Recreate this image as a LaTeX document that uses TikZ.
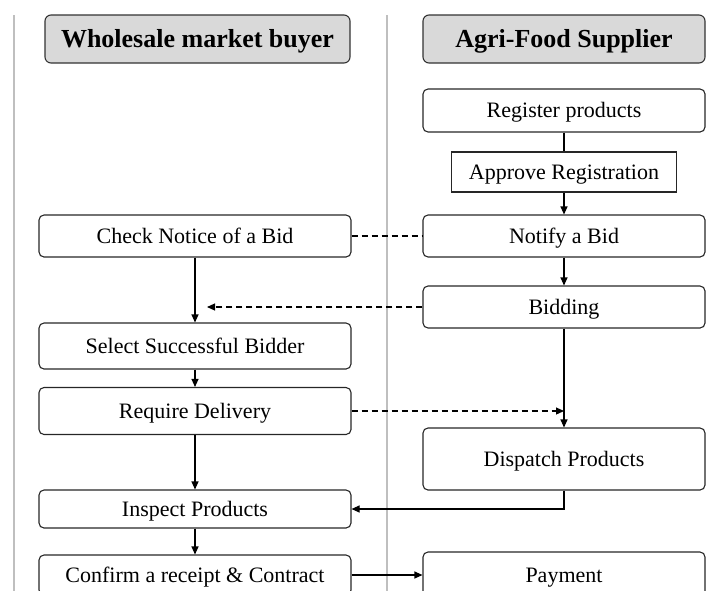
\documentclass[tikz,border=0pt]{standalone}
\usepackage{fontspec}
\setmainfont{Liberation Serif}
\usetikzlibrary{arrows.meta, positioning}
\definecolor{lanegray}{HTML}{BFBFBF}
\definecolor{hdrgray}{HTML}{D9D9D9}

\begin{document}
\begin{tikzpicture}[x=1pt, y=-1pt,
    lane/.style={draw=lanegray, line width=1.5pt},
    hdr/.style={draw=black!80, fill=hdrgray, rounded corners=6pt, line width=1.1pt,
                inner sep=0pt, text height=17pt, text depth=0pt, minimum height=48pt,
                font=\fontsize{26}{30}\selectfont\bfseries},
    stepbox/.style={draw=black!85, rounded corners=5pt, line width=1.1pt, inner sep=0pt,
                    text height=14.5pt, text depth=0pt, font=\fontsize{22}{26}\selectfont},
    lbox/.style={stepbox, minimum width=312pt},
    rbox/.style={stepbox, minimum width=282pt},
    arr/.style={-{Triangle[length=8pt, width=7pt]}, line width=1.1pt},
    dsh/.style={line width=1.1pt, dash pattern=on 6pt off 4pt},
]
    \useasboundingbox (0,0) rectangle (719,590);
    \clip (0,0) rectangle (719,590);

    % swim lanes
    \draw[lane] (14,15) -- (14,600);
    \draw[lane] (387,15) -- (387,600);

    \node[hdr, minimum width=305pt] (buyer) at (197.5,39) {Wholesale market buyer};
    \node[hdr, minimum width=282pt] (supplier) at (564,39) {Agri-Food Supplier};

    % supplier side
    \node[rbox, minimum height=43pt] (regprod) at (564,110.5) {Register products};
    \node[stepbox, rounded corners=0pt, minimum width=225pt, minimum height=40pt] (approve) at (564,172) {Approve Registration};
    \node[rbox, minimum height=42pt] (notify) at (564,236) {Notify a Bid};
    \node[rbox, minimum height=42pt] (bidding) at (564,307) {Bidding};
    \node[rbox, minimum height=62pt] (dispatch) at (564,459) {Dispatch Products};
    \node[rbox, minimum height=46pt] (payment) at (564,575) {Payment};

    % buyer side
    \node[lbox, minimum height=42pt] (checkbid) at (195,236) {Check Notice of a Bid};
    \node[lbox, minimum height=46pt] (select) at (195,346) {Select Successful Bidder};
    \node[lbox, minimum height=47pt] (require) at (195,411) {Require Delivery};
    \node[lbox, minimum height=38pt] (inspect) at (195,509) {Inspect Products};
    \node[lbox, minimum height=40pt] (confirm) at (195,575) {Confirm a receipt \& Contract};

    \coordinate (bidtip) at (207,307);
    \coordinate (dispin) at (564,411);

    \draw[line width=1.1pt] (regprod) -- (approve);
    \draw[arr] (approve) -- (notify);
    \draw[dsh] (checkbid) -- (notify);
    \draw[arr] (notify) -- (bidding);
    \draw[arr] (checkbid) -- (select);
    \draw[arr, dsh] (bidding) -- (bidtip);
    \draw[arr] (select) -- (require);
    \draw[arr] (bidding) -- (dispatch);
    \draw[arr, dsh] (require) -- (dispin);
    \draw[arr] (require) -- (inspect);
    \draw[arr] (dispatch.south) |- (inspect.east);
    \draw[arr] (inspect) -- (confirm);
    \draw[arr] (confirm) -- (payment);
\end{tikzpicture}
\end{document}
